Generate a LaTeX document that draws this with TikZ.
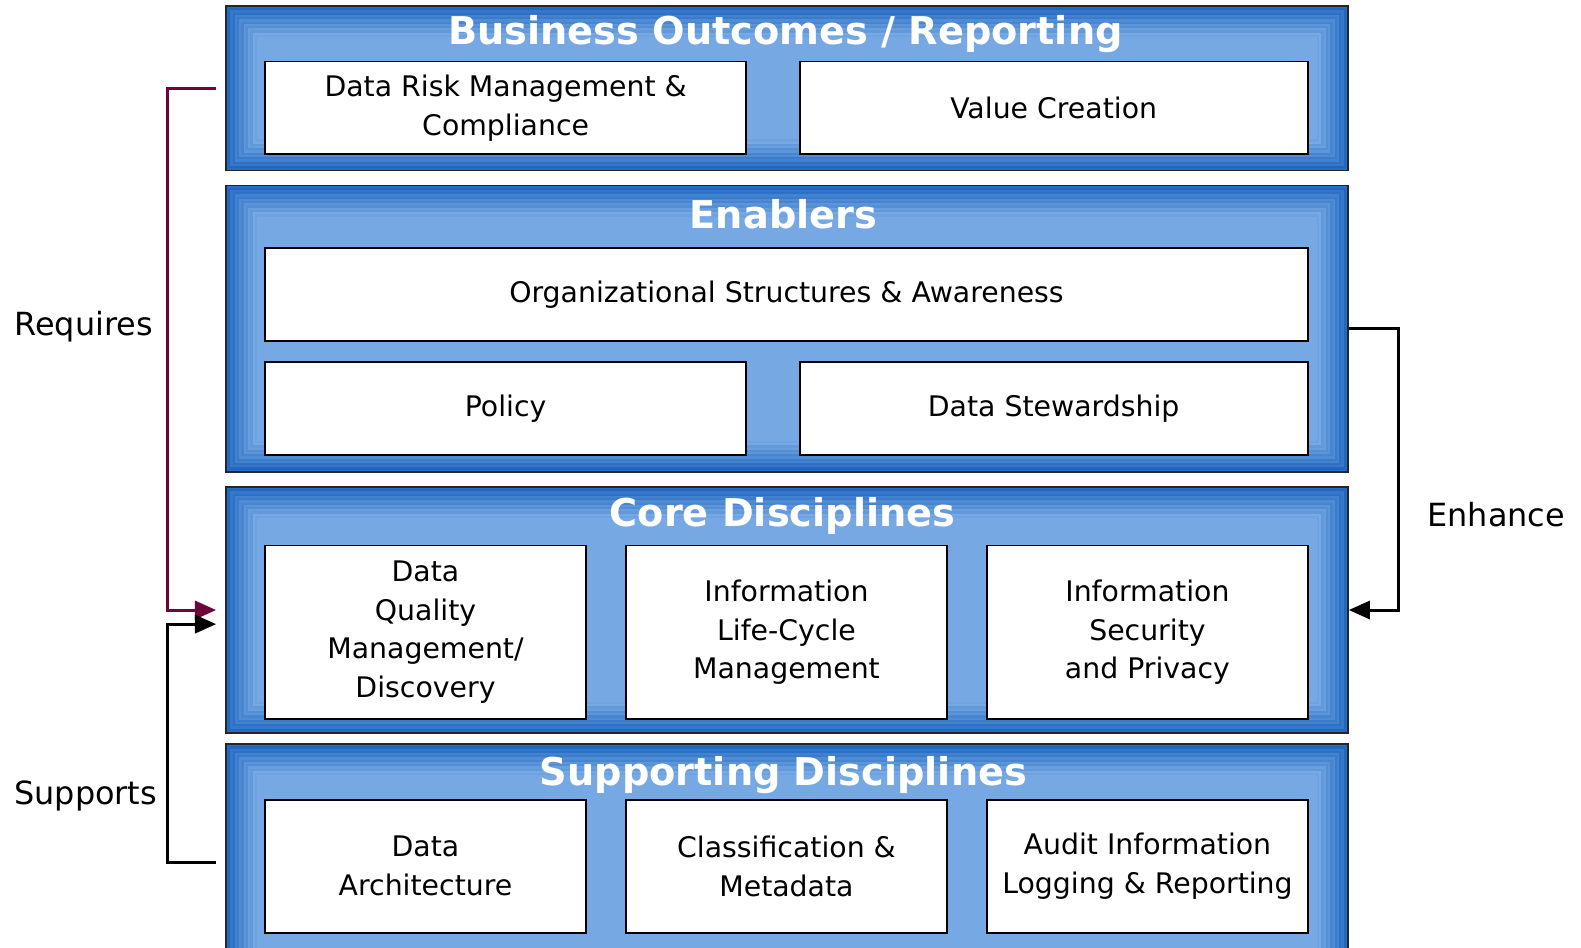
\documentclass[tikz,border=0pt]{standalone}
\usepackage{fontspec}
\setmainfont{DejaVu Sans}
\usepackage{xcolor}
\usepackage{tikz}
\usetikzlibrary{positioning,arrows.meta}
\definecolor{paneldark}{RGB}{40,110,196}
\definecolor{panellight}{RGB}{150,192,240}
\definecolor{panelfill}{RGB}{118,168,228}
\definecolor{reqred}{RGB}{108,6,58}
\tikzset{
panel/.style={rectangle, fill=panelfill, draw=black!85, line width=0.9pt,
  path picture={
    \foreach \i [evaluate=\i as \c using {100-\i*6+mod(\i,2)*14}] in {0,...,13}{
      \draw[line width=1.25pt, color=paneldark!\c!panellight]
        ([xshift=\i*1.25pt+0.62pt, yshift=\i*1.25pt+0.62pt]path picture bounding box.south west) rectangle
        ([xshift=-\i*1.25pt-0.62pt, yshift=-\i*1.25pt-0.62pt]path picture bounding box.north east);
    }
  }},
box/.style={rectangle, fill=white, draw=black, line width=1.1pt, align=center,
  font=\fontsize{16}{21.8}\selectfont},
title/.style={text=white, font=\fontsize{21.6}{25}\selectfont\bfseries},
side/.style={font=\fontsize{18}{22}\selectfont},
link/.style={line width=1.7pt, -{Triangle[length=0.42cm,width=0.36cm]}}
}

\begin{document}
\begin{tikzpicture}[x=0.02cm, y=-0.02cm]
\useasboundingbox (0,0) rectangle (1568,940);

% panels
\node[panel, minimum width=22.26cm, minimum height=3.26cm] (p1) at (780.5,87.5) {};
\node[panel, minimum width=22.26cm, minimum height=5.68cm] (p2) at (780.5,326) {};
\node[panel, minimum width=22.26cm, minimum height=4.88cm] (p3) at (780.5,605) {};
\node[panel, minimum width=22.26cm, minimum height=4.68cm] (p4) at (780.5,855) {};

\node[title] (t1) at (779,34) {Business Outcomes / Reporting};
\node[title] (t2) at (777,212) {Enablers};
\node[title] (t3) at (776,512) {Core Disciplines};
\node[title] (t4) at (777,769) {Supporting Disciplines};

% boxes
\node[box, minimum width=9.54cm, minimum height=1.84cm] (risk) at (501.5,107) {Data Risk Management \&\\Compliance};
\node[box, minimum width=10.08cm, minimum height=1.84cm] (value) at (1045,107) {Value Creation};
\node[box, minimum width=20.68cm, minimum height=1.84cm] (org) at (780,292) {Organizational Structures \& Awareness};
\node[box, minimum width=9.54cm, minimum height=1.84cm] (policy) at (501.5,405) {Policy};
\node[box, minimum width=10.08cm, minimum height=1.84cm] (stew) at (1045,405) {Data Stewardship};
\node[box, minimum width=6.36cm, minimum height=3.44cm] (dq) at (422,627) {Data\\Quality\\Management/\\Discovery};
\node[box, minimum width=6.36cm, minimum height=3.44cm] (ilm) at (780,627) {Information\\Life-Cycle\\Management};
\node[box, minimum width=6.36cm, minimum height=3.44cm] (sec) at (1138,627) {Information\\Security\\and Privacy};
\node[box, minimum width=6.36cm, minimum height=2.64cm] (arch) at (422,859) {Data\\Architecture};
\node[box, minimum width=6.36cm, minimum height=2.64cm] (meta) at (780,859) {Classification \&\\Metadata};
\node[box, minimum width=6.36cm, minimum height=2.64cm] (audit) at (1138,859) {Audit Information\\Logging \& Reporting};

% side labels
\node[side] (req) at (83,324) {Requires};
\node[side] (sup) at (85,789) {Supports};
\node[side] (enh) at (1484,510) {Enhance};

% connectors
\draw[link, reqred] ([xshift=-0.18cm]p1.west) -- ++(-0.96cm,0) |- ([xshift=-0.18cm]p3.west);
\draw[link] ([xshift=-0.18cm]p4.west) -- ++(-0.96cm,0) |- ([xshift=-0.18cm,yshift=-0.28cm]p3.west);
\draw[link] (p2.east) -- ++(0.98cm,0) |- (p3.east);
\end{tikzpicture}
\end{document}
